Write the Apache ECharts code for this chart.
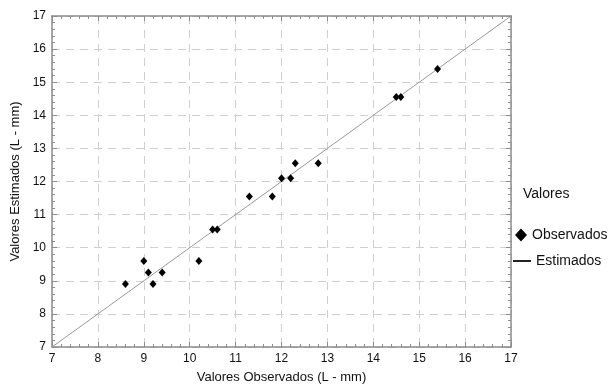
<!DOCTYPE html>
<html>
<head>
<meta charset="utf-8">
<script src="https://cdn.jsdelivr.net/npm/echarts@6/dist/echarts.min.js"></script>
<style>
  html, body { margin: 0; padding: 0; background: #fff; }
  #chart { width: 614px; height: 391px; }
</style>
</head>
<body>
<div id="chart"></div>
<script>
// valores
const observados = [8.6, 9.0, 9.1, 9.2, 9.4, 10.2, 10.5, 10.6, 11.3, 11.8, 12.0, 12.2, 12.3, 12.8, 14.5, 14.6, 15.4];
const estimadosPts = [8.9, 9.6, 9.25, 8.9, 9.25, 9.6, 10.55, 10.55, 11.55, 11.55, 12.1, 12.1, 12.55, 12.55, 14.55, 14.55, 15.4];
const linhaX = [7, 17];
const linhaY = [7, 17];
const axisMin = 7, axisMax = 17;

const chart = echarts.init(document.getElementById('chart'));

const font = 'Liberation Sans, Arial, sans-serif';
const frameColor = '#8c8c8c';

function baseAxis(pos, showLabels) {
  return {
    type: 'value',
    position: pos,
    min: axisMin,
    max: axisMax,
    interval: 1,
    axisLine: { show: true, onZero: false, lineStyle: { color: frameColor, width: 1.5 } },
    axisTick: { show: true, inside: true, length: 5, lineStyle: { color: frameColor } },
    minorTick: { show: true, splitNumber: 5, length: 3, lineStyle: { color: frameColor } },
    axisLabel: { show: showLabels, color: '#111', fontSize: 12, fontFamily: font, margin: 6 },
    splitLine: { show: false }
  };
}

const xBottom = Object.assign(baseAxis('bottom', true), {
  name: 'Valores Observados (L - mm)',
  nameLocation: 'middle',
  nameGap: 24,
  nameTextStyle: { color: '#111', fontSize: 13, fontFamily: font },
  splitLine: { show: true, lineStyle: { color: '#cfcfcf', type: [8, 6] } }
});
const yLeft = Object.assign(baseAxis('left', true), {
  name: 'Valores Estimados (L - mm)',
  nameLocation: 'middle',
  nameGap: 30,
  nameTextStyle: { color: '#111', fontSize: 13, fontFamily: font },
  splitLine: { show: true, lineStyle: { color: '#cfcfcf', type: [8, 6] } }
});

const legendText = { color: '#111', fontSize: 14, fontFamily: font };

const option = {
  backgroundColor: '#fff',
  animation: false,
  title: {
    text: 'Valores',
    left: 523,
    top: 187,
    padding: 0,
    textStyle: { color: '#111', fontSize: 14, fontWeight: 'normal', fontFamily: font }
  },
  legend: [
    {
      left: 515,
      top: 228,
      padding: 0,
      itemWidth: 12,
      itemHeight: 13,
      textStyle: legendText,
      data: [{ name: 'Observados', icon: 'path://M6,0L12,6.5L6,13L0,6.5Z' }]
    },
    {
      left: 513,
      top: 254,
      padding: 0,
      itemWidth: 18,
      itemHeight: 2,
      textStyle: legendText,
      data: [{ name: 'Estimados', icon: 'path://M0,0L18,0L18,2L0,2Z' }]
    }
  ],
  grid: { left: 52, right: 103, top: 16, bottom: 44 },
  xAxis: [xBottom, baseAxis('top', false)],
  yAxis: [yLeft, baseAxis('right', false)],
  series: [
    {
      name: 'Observados',
      type: 'scatter',
      symbol: 'diamond',
      symbolSize: [7, 8],
      itemStyle: { color: '#000', opacity: 1 },
      data: observados.map((x, i) => [x, estimadosPts[i]]),
      z: 3
    },
    {
      name: 'Estimados',
      type: 'line',
      symbol: 'none',
      lineStyle: { color: '#999', width: 1 },
      itemStyle: { color: '#222' },
      data: linhaX.map((x, i) => [x, linhaY[i]]),
      z: 2
    }
  ]
};

chart.setOption(option);
</script>
</body>
</html>
